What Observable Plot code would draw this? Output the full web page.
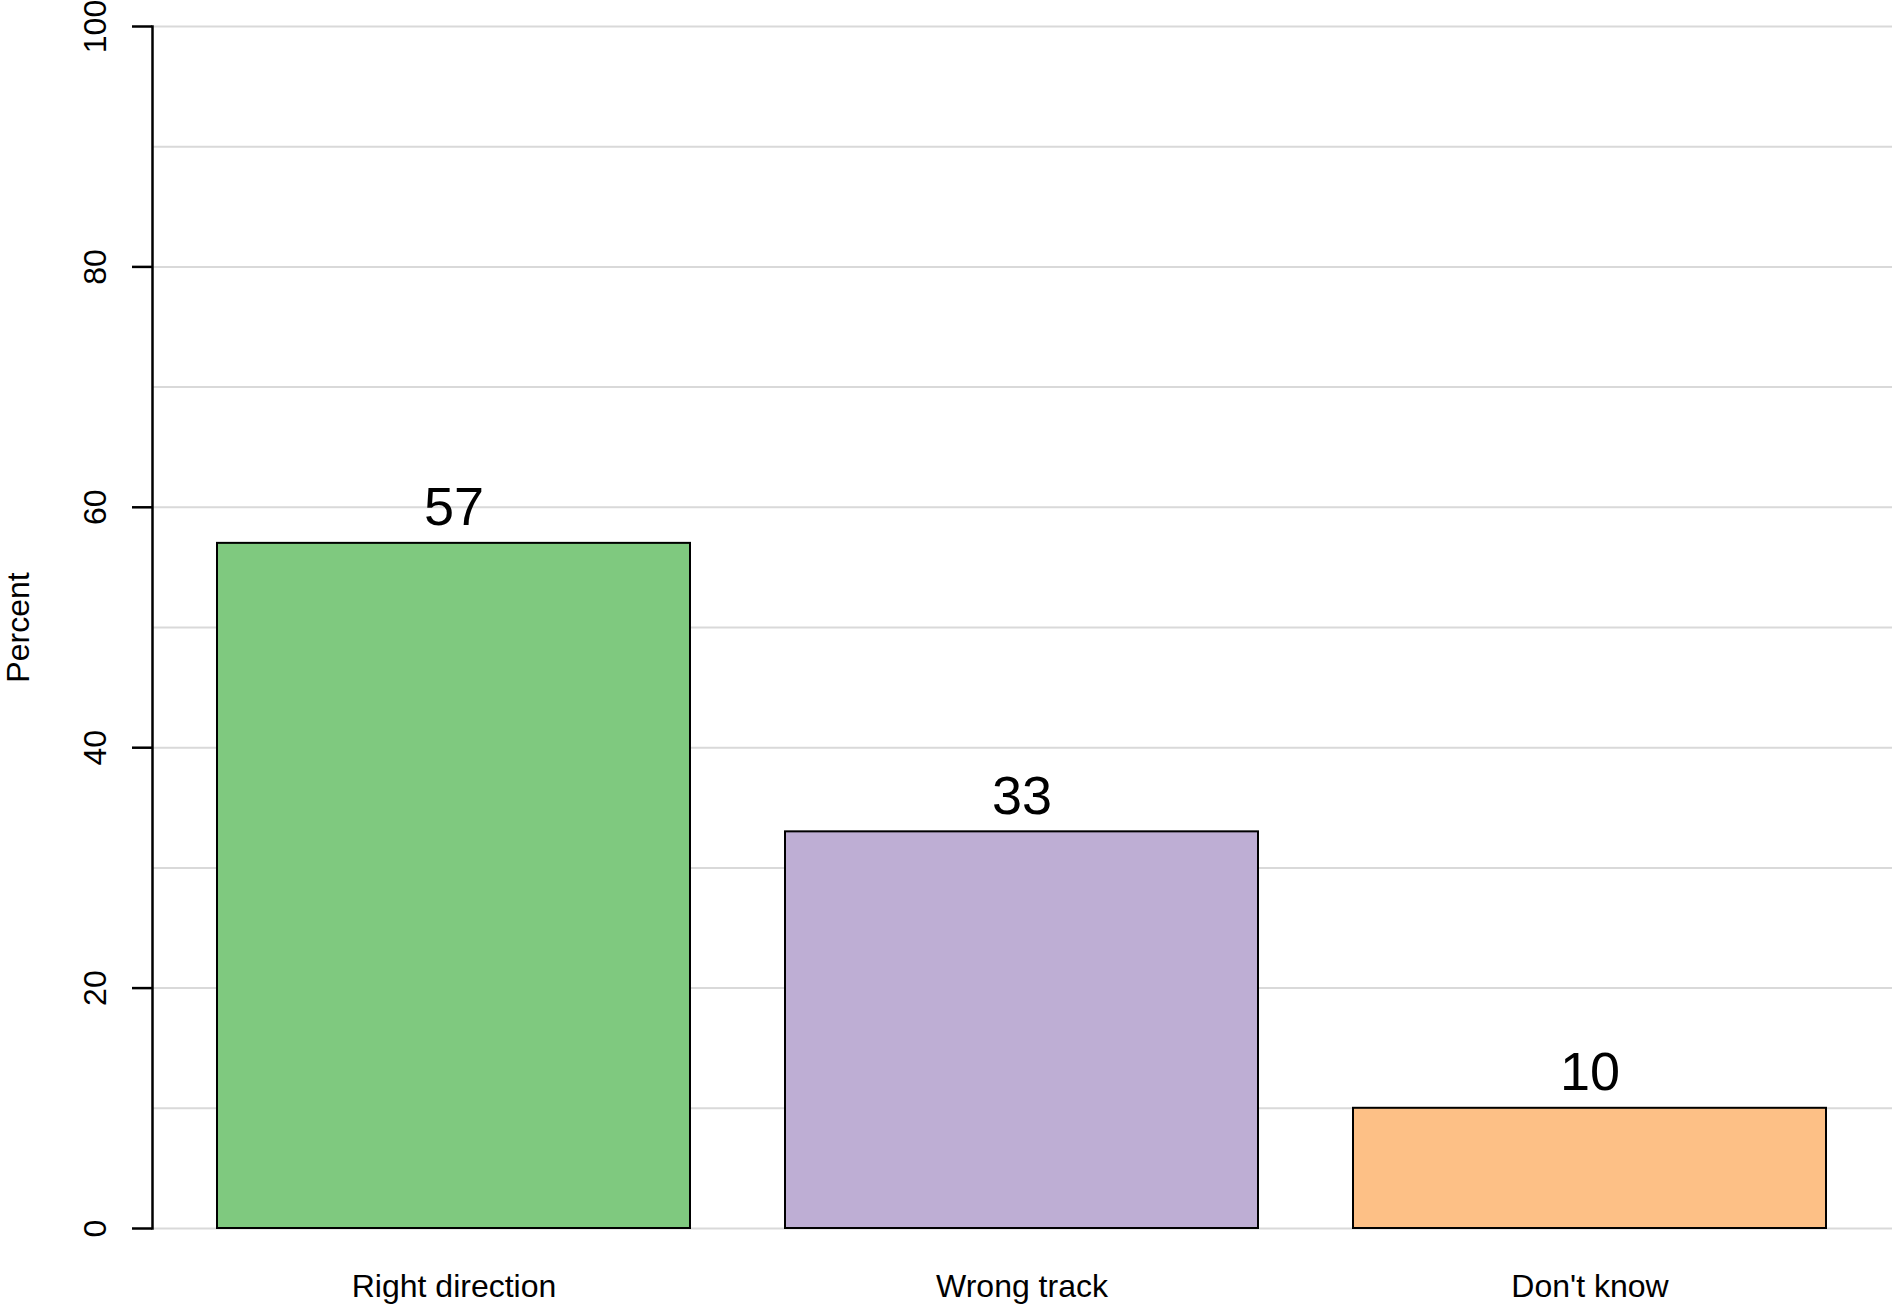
<!DOCTYPE html>
<html>
<head>
<meta charset="utf-8">
<script src="https://cdn.jsdelivr.net/npm/d3@7"></script>
<script src="https://cdn.jsdelivr.net/npm/@observablehq/plot@0.6"></script>
<style>
  html, body { margin: 0; padding: 0; background: #fff; }
  #chart svg { display: block; }
</style>
</head>
<body>
<div id="chart"></div>
<script>
const categories = ["Right direction", "Wrong track", "Don't know"];
const values = [57, 33, 10];
const barColors = ["#7fc97f", "#beaed4", "#fdc086"];
const yTickLabels = [0, 20, 40, 60, 80, 100];
const yGridLines = [0, 10, 20, 30, 40, 50, 60, 70, 80, 90, 100];
const yLabel = "Percent";

const data = categories.map((c, i) => ({category: c, value: values[i]}));
const font = "'Liberation Sans', Arial, Helvetica, sans-serif";

const chart = Plot.plot({
  width: 1893,
  height: 1306,
  marginTop: 26,
  marginBottom: 78,
  marginLeft: 152,
  marginRight: 1,
  style: {fontFamily: font, background: "#fff", color: "#000", overflow: "visible"},
  x: {domain: categories, paddingInner: 0.1667, paddingOuter: 0.1133, label: null},
  y: {domain: [0, 100], label: null},
  color: {domain: categories, range: barColors},
  marks: [
    Plot.gridY({ticks: yGridLines, stroke: "#d9d9d9", strokeOpacity: 1, strokeWidth: 2}),
    Plot.barY(data, {x: "category", y: "value", fill: "category", stroke: "#000", strokeWidth: 2}),
    Plot.text(data, {x: "category", y: "value", text: d => String(d.value), lineAnchor: "bottom", dy: -18, fontSize: 54, fill: "#000"}),
    Plot.axisX({tickSize: 0, tickPadding: 46, fontSize: 32, label: null}),
    Plot.axisY({ticks: yTickLabels, tickSize: 20, tickFormat: () => "", strokeWidth: 2.5, label: null}),
    Plot.text(yTickLabels, {y: d => d, text: d => String(d), frameAnchor: "left", textAnchor: "middle", dx: -57, rotate: -90, fontSize: 32, fill: "#000"}),
    Plot.frame({anchor: "left", stroke: "#000", strokeWidth: 2.5}),
    Plot.text([yLabel], {text: d => d, frameAnchor: "left", textAnchor: "middle", dx: -134, rotate: -90, fontSize: 32, fill: "#000"})
  ]
});
document.getElementById("chart").appendChild(chart);
</script>
</body>
</html>
